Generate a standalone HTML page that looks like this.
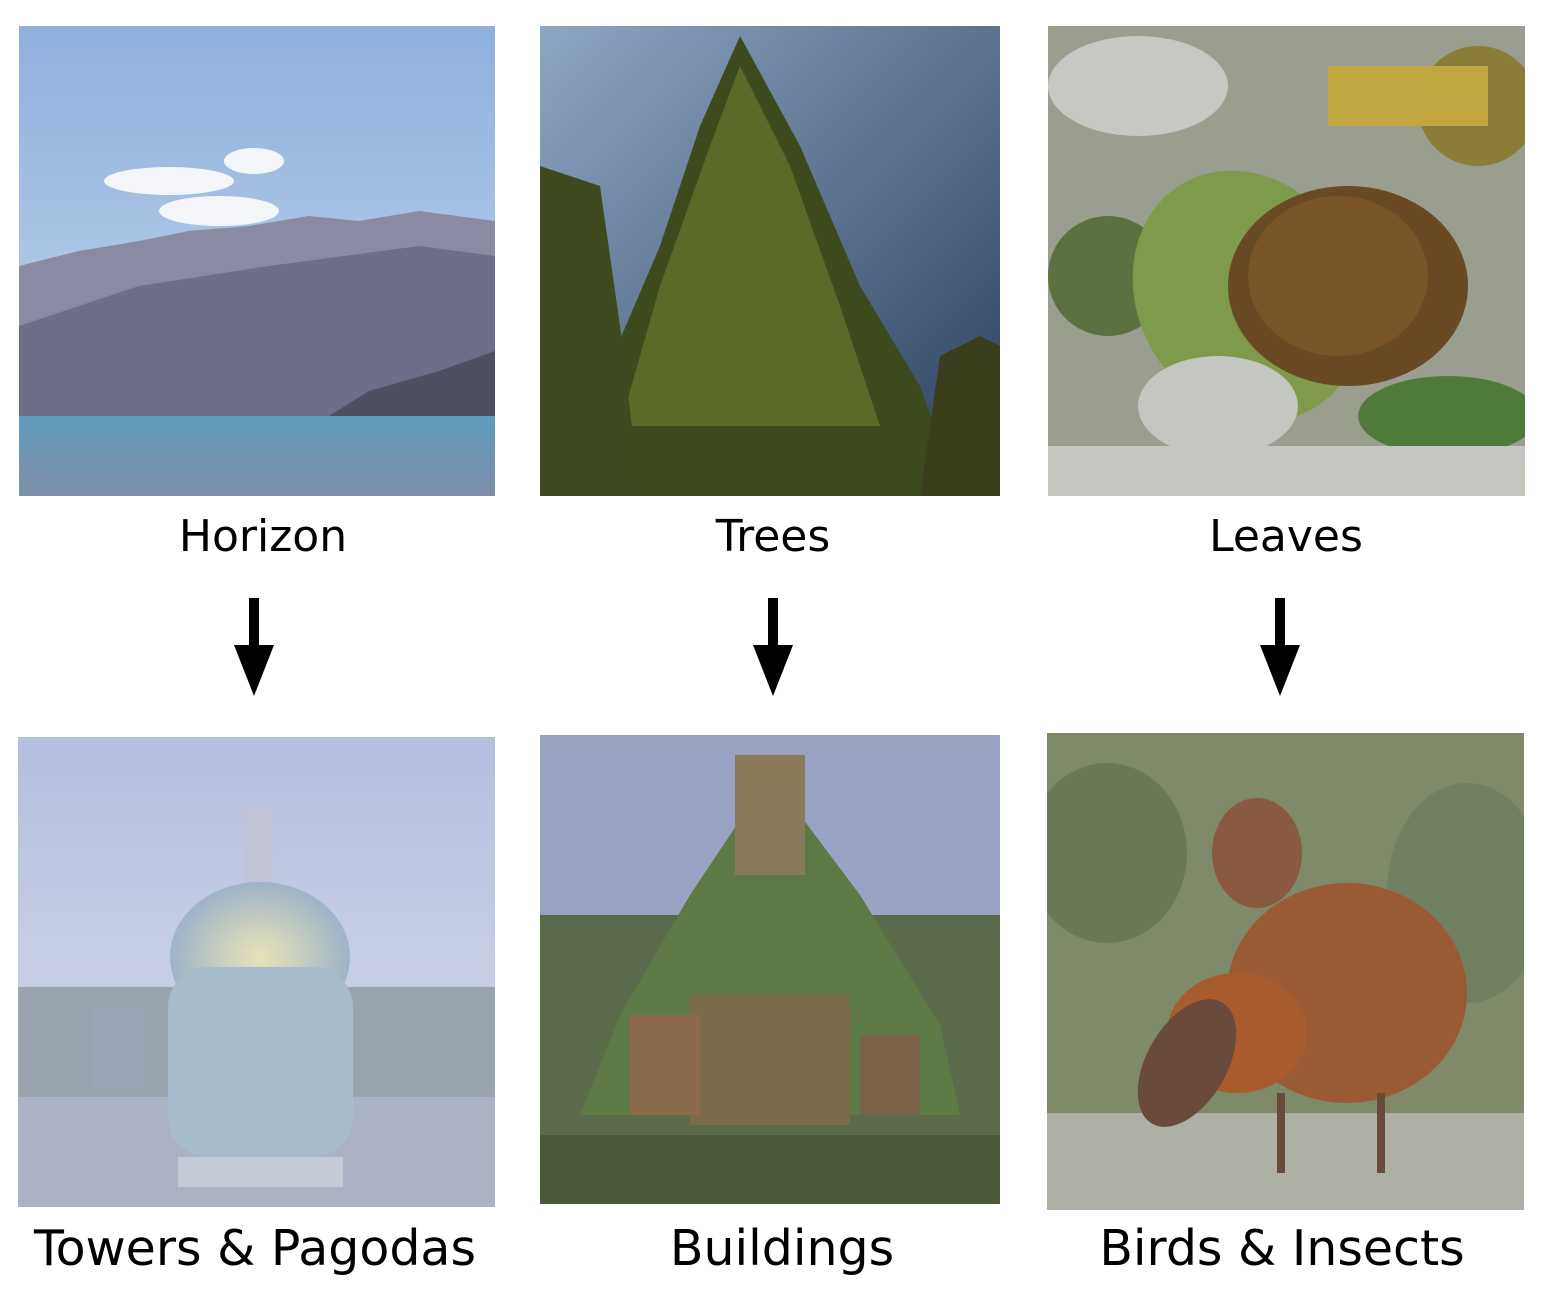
<!DOCTYPE html>
<html><head><meta charset="utf-8">
<style>
html,body{margin:0;padding:0;background:#fff;}
body{width:1544px;height:1289px;position:relative;overflow:hidden;font-family:"DejaVu Sans","Liberation Sans",sans-serif;}
.lbl{position:absolute;text-align:center;color:#000;white-space:nowrap;transform:translateX(-50%);}
.top{font-size:44px;top:511px;}
.bot{font-size:49px;top:1220px;}
svg.img{position:absolute;}
</style></head><body>

<!-- Horizon -->
<svg class="img" style="left:19px;top:26px" width="476" height="470" viewBox="0 0 476 470">
<defs><linearGradient id="sky1" x1="0" y1="0" x2="0" y2="1"><stop offset="0" stop-color="#8fb0dc"/><stop offset="1" stop-color="#c7d9ee"/></linearGradient>
<linearGradient id="lake" x1="0" y1="0" x2="0" y2="1"><stop offset="0" stop-color="#5e9bbd"/><stop offset="1" stop-color="#7e8ea8"/></linearGradient></defs>
<rect width="476" height="470" fill="url(#sky1)"/>
<ellipse cx="150" cy="155" rx="65" ry="14" fill="#f3f5f8"/><ellipse cx="235" cy="135" rx="30" ry="13" fill="#f3f5f8"/><ellipse cx="200" cy="185" rx="60" ry="15" fill="#f3f5f8"/>
<polygon points="0,240 60,225 120,215 170,205 230,200 290,190 340,195 400,185 476,195 476,390 0,390" fill="#8a8aa2"/>
<polygon points="0,300 120,260 250,240 400,220 476,230 476,390 0,390" fill="#6e6e88"/>
<polygon points="310,390 350,365 420,345 476,325 476,395 300,395" fill="#4d5060"/>
<rect y="390" width="476" height="80" fill="url(#lake)"/>
</svg>
<div class="lbl top" style="left:263px">Horizon</div>

<!-- Trees -->
<svg class="img" style="left:540px;top:26px" width="460" height="470" viewBox="0 0 460 470">
<defs><linearGradient id="sky2" x1="0" y1="0" x2="1" y2="1"><stop offset="0" stop-color="#8fa6c4"/><stop offset="1" stop-color="#2a3f5c"/></linearGradient></defs>
<rect width="460" height="470" fill="url(#sky2)"/>
<polygon points="200,10 260,120 320,260 380,360 420,470 20,470 60,360 120,220 160,100" fill="#3d4a1c"/>
<polygon points="200,40 250,140 300,280 340,400 80,400 120,260 170,120" fill="#5b6a27"/>
<polygon points="0,140 60,160 80,300 100,470 0,470" fill="#3e4a1e"/>
<polygon points="400,330 440,310 460,320 460,470 380,470" fill="#3a3e1c"/>
</svg>
<div class="lbl top" style="left:773px">Trees</div>

<!-- Leaves -->
<svg class="img" style="left:1048px;top:26px" width="477" height="470" viewBox="0 0 477 470">
<rect width="477" height="470" fill="#9a9e8e"/>
<ellipse cx="90" cy="60" rx="90" ry="50" fill="#c9c7c3"/>
<ellipse cx="430" cy="80" rx="60" ry="60" fill="#8a7d3a"/>
<rect x="280" y="40" width="160" height="60" fill="#c2a640"/>
<ellipse cx="60" cy="250" rx="60" ry="60" fill="#5c7040"/>
<ellipse cx="200" cy="270" rx="110" ry="130" fill="#7f9a4a" transform="rotate(-30 200 270)"/>
<ellipse cx="300" cy="260" rx="120" ry="100" fill="#6a4a22"/>
<ellipse cx="290" cy="250" rx="90" ry="80" fill="#7a5527"/>
<ellipse cx="170" cy="380" rx="80" ry="50" fill="#c4c6c2"/>
<ellipse cx="400" cy="390" rx="90" ry="40" fill="#4e7a3a"/>
<rect y="420" width="477" height="50" fill="#c6c6c0"/>
</svg>
<div class="lbl top" style="left:1286px">Leaves</div>

<!-- Arrows -->
<svg style="position:absolute;left:0;top:0" width="1544" height="720">
<g fill="#000">
<rect x="249" y="598" width="10" height="50"/><polygon points="234,645 274,645 254,696"/>
<rect x="768" y="598" width="10" height="50"/><polygon points="753,645 793,645 773,696"/>
<rect x="1275" y="598" width="10" height="50"/><polygon points="1260,645 1300,645 1280,696"/>
</g></svg>

<!-- Towers -->
<svg class="img" style="left:18px;top:737px" width="477" height="470" viewBox="0 0 477 470">
<defs><linearGradient id="sky3" x1="0" y1="0" x2="0" y2="1"><stop offset="0" stop-color="#b4bedd"/><stop offset="0.5" stop-color="#c8cfe4"/><stop offset="1" stop-color="#a6b2c2"/></linearGradient>
<radialGradient id="dome"><stop offset="0" stop-color="#e8e2b8"/><stop offset="1" stop-color="#9fb4c8"/></radialGradient></defs>
<rect width="477" height="470" fill="url(#sky3)"/>
<rect y="250" width="477" height="110" fill="#9aa4ae"/>
<rect y="360" width="477" height="110" fill="#aab2c4"/>
<rect x="225" y="70" width="30" height="100" fill="#c0c4d4"/>
<ellipse cx="242" cy="220" rx="90" ry="75" fill="url(#dome)"/>
<rect x="150" y="230" width="185" height="190" rx="40" fill="#a8bccc"/>
<rect x="160" y="420" width="165" height="30" fill="#c4cbd6"/>
<rect x="75" y="270" width="50" height="80" fill="#9aa6b8"/>
</svg>
<div class="lbl bot" style="left:255px">Towers &amp; Pagodas</div>

<!-- Buildings -->
<svg class="img" style="left:540px;top:735px" width="460" height="469" viewBox="0 0 460 469">
<rect width="460" height="469" fill="#9aa3c4"/>
<rect y="180" width="460" height="289" fill="#5a6a4a"/>
<polygon points="230,40 320,160 400,290 420,380 40,380 80,280 150,160" fill="#5e7a44"/>
<rect x="195" y="20" width="70" height="120" fill="#8a7a5a"/>
<rect x="150" y="260" width="160" height="130" fill="#7a6a48"/>
<rect x="90" y="280" width="70" height="100" fill="#8a6a4a"/>
<rect x="320" y="300" width="60" height="80" fill="#7a6248"/>
<rect y="400" width="460" height="69" fill="#4a5a3a"/>
</svg>
<div class="lbl bot" style="left:782px">Buildings</div>

<!-- Birds -->
<svg class="img" style="left:1047px;top:733px" width="477" height="477" viewBox="0 0 477 477">
<rect width="477" height="477" fill="#7f8a6a"/>
<ellipse cx="60" cy="120" rx="80" ry="90" fill="#6a7a58"/>
<ellipse cx="420" cy="160" rx="80" ry="110" fill="#718060"/>
<rect y="380" width="477" height="97" fill="#aeb0a6"/>
<ellipse cx="300" cy="260" rx="120" ry="110" fill="#9a5a34"/>
<ellipse cx="210" cy="120" rx="45" ry="55" fill="#8a5a40"/>
<ellipse cx="190" cy="300" rx="70" ry="60" fill="#a85c2e"/>
<ellipse cx="140" cy="330" rx="40" ry="70" fill="#6a4a3a" transform="rotate(30 140 330)"/>
<rect x="230" y="360" width="8" height="80" fill="#6a4a3a"/><rect x="330" y="360" width="8" height="80" fill="#6a4a3a"/>
</svg>
<div class="lbl bot" style="left:1282px">Birds &amp; Insects</div>

</body></html>
